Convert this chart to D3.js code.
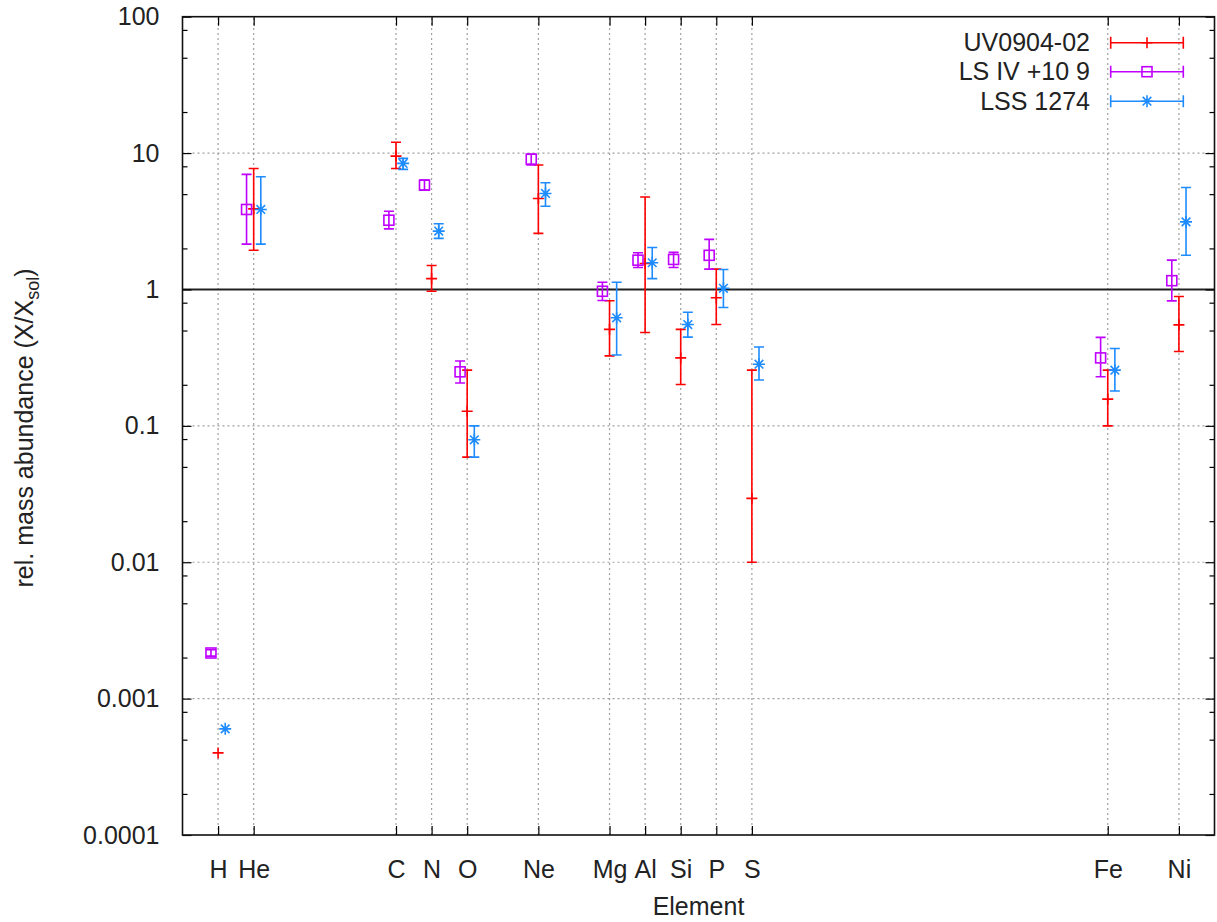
<!DOCTYPE html>
<html>
<head>
<meta charset="utf-8">
<script src="https://cdn.jsdelivr.net/npm/d3@7"></script>
<style>
  html, body { margin: 0; padding: 0; background: #fff; }
  svg { display: block; font-family: 'Liberation Sans', Arial, sans-serif; }
</style>
</head>
<body>
<svg id="chart" width="1217" height="922"></svg>
<script>
// ---- data ----
const elements = ["H", "He", "C", "N", "O", "Ne", "Mg", "Al", "Si", "P", "S", "Fe", "Ni"];
const atomicNumbers = [1, 2, 6, 7, 8, 10, 12, 13, 14, 15, 16, 26, 28];

// UV0904-02: value, lower, upper (null = not measured)
const uvValue = [0.0004, 3.9, 9.5, 1.2, 0.128, 4.65, 0.51, 1.55, 0.315, 0.87, 0.0294, 0.157, 0.55];
const uvLow   = [0.0004, 1.94, 7.7, 0.97, 0.059, 2.58, 0.326, 0.484, 0.201, 0.553, 0.01, 0.1, 0.351];
const uvHigh  = [0.0004, 7.7, 12.0, 1.5, 0.256, 8.17, 0.826, 4.76, 0.51, 1.41, 0.256, 0.256, 0.889];

// LS IV +10 9
const lsValue = [0.00216, 3.86, 3.22, 5.82, 0.249, 9.03, 0.97, 1.64, 1.66, 1.78, null, 0.315, 1.16];
const lsLow   = [0.00205, 2.15, 2.78, 5.35, 0.206, 8.2, 0.83, 1.45, 1.45, 1.41, null, 0.229, 0.825];
const lsHigh  = [0.00228, 6.98, 3.75, 6.34, 0.299, 9.8, 1.13, 1.86, 1.87, 2.33, null, 0.445, 1.64];

// LSS 1274
const lssValue = [0.0006, 3.86, 8.4, 2.68, 0.079, 5.06, 0.62, 1.57, 0.553, 1.02, 0.283, 0.256, 3.13];
const lssLow   = [0.0006, 2.15, 7.6, 2.37, 0.059, 4.08, 0.331, 1.2, 0.447, 0.738, 0.217, 0.18, 1.78];
const lssHigh  = [0.0006, 6.7, 9.14, 3.03, 0.10, 6.06, 1.13, 2.03, 0.68, 1.40, 0.379, 0.369, 5.6];

const seriesNames = ["UV0904-02", "LS IV +10 9", "LSS 1274"];
const yTickValues = [1e-4, 1e-3, 1e-2, 0.1, 1, 10, 100];
const yTickLabels = ["0.0001", "0.001", "0.01", "0.1", "1", "10", "100"];
const minorFactors = [2, 5, 8];

// ---- layout ----
const pLeft = 182.5, pRight = 1214.5, pTop = 16.7, pBottom = 835;
const svg = d3.select("#chart");
const x = d3.scaleLinear().domain([0, 29]).range([pLeft, pRight]);
const y = d3.scaleLog().domain([1e-4, 100]).range([pBottom, pTop]);
const FS = 25;
const FONT = "'Liberation Sans', Arial, sans-serif";

const series = [
  { name: seriesNames[0], v: uvValue, lo: uvLow, hi: uvHigh, color: "#ff0000", off: 0, marker: "plus" },
  { name: seriesNames[1], v: lsValue, lo: lsLow, hi: lsHigh, color: "#c000ff", off: -0.2, marker: "square" },
  { name: seriesNames[2], v: lssValue, lo: lssLow, hi: lssHigh, color: "#1e8cff", off: 0.2, marker: "star" }
];

// ---- grid ----
const grid = svg.append("g").attr("stroke", "#a0a0a0").attr("stroke-width", 1.2).attr("stroke-dasharray", "2,3");
atomicNumbers.forEach(z => {
  grid.append("line").attr("x1", x(z)).attr("x2", x(z)).attr("y1", pBottom).attr("y2", pTop);
});
yTickValues.forEach(v => {
  if (v === 1 || v === 100 || v === 1e-4) return;
  grid.append("line").attr("x1", pLeft).attr("x2", pRight).attr("y1", y(v)).attr("y2", y(v));
});
// line at 1
svg.append("line").attr("x1", pLeft).attr("x2", pRight).attr("y1", y(1)).attr("y2", y(1))
  .attr("stroke", "#222").attr("stroke-width", 2);

// ---- axes (D3 axes, ticks pointing inward) ----
function styleTicks(g) {
  g.select(".domain").remove();
  g.selectAll(".tick line").attr("stroke", "#000").attr("stroke-width", 1.2);
  g.selectAll(".tick text").attr("font-size", FS).attr("font-family", FONT).attr("fill", "#222");
}
const xAxisB = d3.axisBottom(x).tickValues(atomicNumbers).tickSize(-9).tickFormat((d, i) => elements[i]).tickPadding(25);
svg.append("g").attr("transform", `translate(0,${pBottom})`).call(xAxisB).call(styleTicks);

const xAxisT = d3.axisTop(x).tickValues(atomicNumbers).tickSize(-9).tickFormat("");
svg.append("g").attr("transform", `translate(0,${pTop})`).call(xAxisT).call(styleTicks);

const yAxisL = d3.axisLeft(y).tickValues(yTickValues).tickSize(-9).tickPadding(23)
  .tickFormat((d, i) => yTickLabels[i]);
svg.append("g").attr("transform", `translate(${pLeft},0)`).call(yAxisL).call(styleTicks);

const yAxisR = d3.axisRight(y).tickValues(yTickValues).tickSize(-9).tickFormat("");
svg.append("g").attr("transform", `translate(${pRight},0)`).call(yAxisR).call(styleTicks);

// minor ticks
const minors = [];
for (let e = -4; e < 2; e++) minorFactors.forEach(f => minors.push(f * Math.pow(10, e)));
const yMinorL = d3.axisLeft(y).tickValues(minors).tickSize(-5).tickFormat("");
svg.append("g").attr("transform", `translate(${pLeft},0)`).call(yMinorL).call(styleTicks);
const yMinorR = d3.axisRight(y).tickValues(minors).tickSize(-5).tickFormat("");
svg.append("g").attr("transform", `translate(${pRight},0)`).call(yMinorR).call(styleTicks);

// frame
svg.append("rect").attr("x", pLeft).attr("y", pTop).attr("width", pRight - pLeft).attr("height", pBottom - pTop)
  .attr("fill", "none").attr("stroke", "#111").attr("stroke-width", 1.6);

// ---- markers ----
function drawMarker(g, cx, cy, type, color) {
  if (type === "plus") {
    g.append("path").attr("d", `M${cx - 5.5},${cy}H${cx + 5.5}M${cx},${cy - 5.5}V${cy + 5.5}`)
      .attr("stroke", color).attr("stroke-width", 1.6).attr("fill", "none");
  } else if (type === "square") {
    g.append("rect").attr("x", cx - 5).attr("y", cy - 5).attr("width", 10).attr("height", 10)
      .attr("stroke", color).attr("stroke-width", 1.6).attr("fill", "none");
  } else {
    const s = 6, d = 4.3;
    g.append("path").attr("d",
      `M${cx - s},${cy}H${cx + s}M${cx},${cy - s}V${cy + s}M${cx - d},${cy - d}L${cx + d},${cy + d}M${cx - d},${cy + d}L${cx + d},${cy - d}`)
      .attr("stroke", color).attr("stroke-width", 1.6).attr("fill", "none");
    g.append("circle").attr("cx", cx).attr("cy", cy).attr("r", 2).attr("fill", color);
  }
}
function drawErrorBar(g, cx, yLo, yHi, color) {
  g.append("path").attr("d",
    `M${cx},${yLo}V${yHi}M${cx - 5},${yLo}H${cx + 5}M${cx - 5},${yHi}H${cx + 5}`)
    .attr("stroke", color).attr("stroke-width", 1.6).attr("fill", "none");
}

// ---- data marks ----
series.forEach(s => {
  const g = svg.append("g");
  atomicNumbers.forEach((z, i) => {
    if (s.v[i] == null) return;
    const cx = x(z + s.off);
    if (s.lo[i] !== s.hi[i]) drawErrorBar(g, cx, y(s.lo[i]), y(s.hi[i]), s.color);
    drawMarker(g, cx, y(s.v[i]), s.marker, s.color);
  });
});

// ---- legend ----
const legendY = [42.7, 71.7, 101.2];
series.forEach((s, i) => {
  const g = svg.append("g");
  const ly = legendY[i];
  g.append("text").attr("x", 1090).attr("y", ly).attr("dy", "0.35em").attr("text-anchor", "end")
    .attr("font-size", FS).attr("font-family", FONT).attr("fill", "#222").text(s.name);
  g.append("path").attr("d", `M1110.7,${ly}H1183.3M1110.7,${ly - 6}V${ly + 6}M1183.3,${ly - 6}V${ly + 6}`)
    .attr("stroke", s.color).attr("stroke-width", 1.6).attr("fill", "none");
  drawMarker(g, 1147, ly, s.marker, s.color);
});

// ---- axis titles ----
svg.append("text").attr("x", (pLeft + pRight) / 2).attr("y", 915).attr("text-anchor", "middle")
  .attr("font-size", FS).attr("font-family", FONT).attr("fill", "#222").text("Element");

const yl = svg.append("text").attr("transform", "translate(33,428) rotate(-90)")
  .attr("text-anchor", "middle").attr("font-size", FS).attr("font-family", FONT).attr("fill", "#222");
yl.append("tspan").text("rel. mass abundance (X/X");
yl.append("tspan").attr("font-size", 18).attr("dy", 6).text("sol");
yl.append("tspan").attr("dy", -6).text(")");
</script>
</body>
</html>
